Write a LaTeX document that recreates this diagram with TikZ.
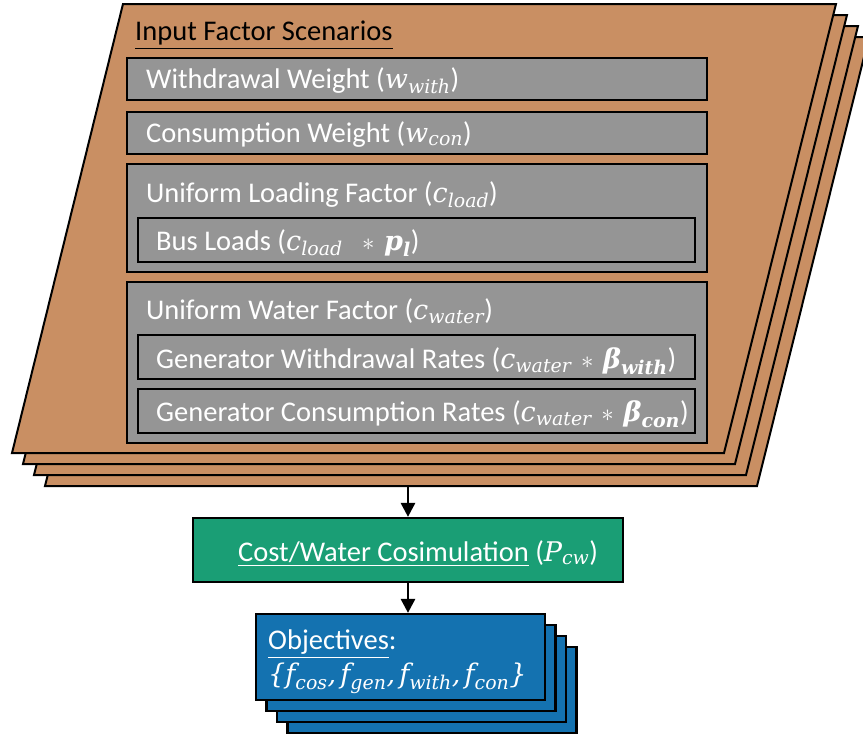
\documentclass[tikz,border=0pt]{standalone}
\usepackage{amsmath}
\usepackage{fontspec}
\setmainfont{Carlito}
\newfontfamily\symserif[Scale=0.95]{DejaVu Serif}
\usetikzlibrary{arrows.meta}
% italic and bold-italic symbols set in a serif text face
\newcommand\sy[1]{\text{\symserif\itshape #1}}
\newcommand\syb[1]{\text{\symserif\bfseries\itshape #1}}
\definecolor{sheetbrown}{RGB}{201,143,99}
\definecolor{panelgray}{RGB}{149,149,149}
\definecolor{simgreen}{RGB}{26,158,117}
\definecolor{objblue}{RGB}{20,114,176}
\begin{document}
\begin{tikzpicture}[x=1pt,y=-1pt,line join=miter,
  sheet/.style={draw=black,line width=2pt,fill=sheetbrown},
  panel/.style={draw=black,line width=2.2pt,fill=panelgray},
  lbl/.style={text=white,font=\fontsize{28.5}{33}\selectfont,inner sep=0pt,anchor=base west},
  simbox/.style={draw=black,line width=2.2pt,fill=simgreen,minimum width=430pt,minimum height=64pt,inner sep=0pt},
  objbox/.style={draw=black,line width=2.2pt,fill=objblue,minimum width=289pt,minimum height=86pt,inner sep=0pt},
  flow/.style={line width=2.8pt,-{Triangle[length=14pt,width=14pt]}}]
\useasboundingbox (0,0) rectangle (863,734);
\clip (0,0) rectangle (863,734);

% stacked scenario sheets, back to front
\foreach \k in {3,2,1,0}{
  \draw[sheet,shift={(11*\k,11*\k)}] (123,4) -- (836,4) -- (724,453) -- (12,453) -- cycle;
}
\coordinate (scenbot) at (408,486);

\node[lbl,text=black] (title) at (135,40) {\underline{Input Factor Scenarios}};

% factor panels
\draw[panel] (127,58) rectangle (707,100);
\node[lbl] (wwith) at (146,88) {Withdrawal Weight ($\sy{w}_{\sy{with}}$)};

\draw[panel] (127,112) rectangle (707,154);
\node[lbl] (wcon) at (146,142) {Consumption Weight ($\sy{w}_{\sy{con}}$)};

\draw[panel] (127,164) rectangle (707,272);
\node[lbl] (cload) at (146,202) {Uniform Loading Factor ($\sy{c}_{\sy{load}}$)};
\draw[panel] (138,218) rectangle (695,262);
\node[lbl] (busload) at (156,250) {Bus Loads ($\sy{c}_{\sy{load}}\;\;\ast\,\syb{p}_{\syb{l}}$)};

\draw[panel] (127,282) rectangle (707,443);
\node[lbl] (cwater) at (146,319) {Uniform Water Factor ($\sy{c}_{\sy{water}}$)};
\draw[panel] (138,335) rectangle (695,379);
\node[lbl] (genwith) at (156,368) {Generator Withdrawal Rates ($\sy{c}_{\sy{water}}\,\ast\,\syb{β}_{\syb{with}}$)};
\draw[panel] (138,389) rectangle (695,433);
\node[lbl] (gencon) at (156,421) {Generator Consumption Rates ($\sy{c}_{\sy{water}}\,\ast\,\syb{β}_{\syb{con}}$)};

% cosimulation
\node[simbox] (sim) at (408,550) {};
\node[lbl] (simtext) at (238,561) {\underline{Cost/Water Cosimulation} ($\sy{P}_{\sy{cw}}$)};

% stacked objective cards, back to front
\foreach \k in {3,2,1}{
  \node[objbox] (obj\k) at (400.5+10.5*\k,657+11*\k) {};
}
\node[objbox] (obj) at (400.5,657) {};
\node[lbl] (objtitle) at (268,649) {\underline{Objectives}:};
\node[lbl] (objset) at (268,683) {$\sy{\{}\sy{f}_{\sy{cos}}\sy{,}\,\sy{f}_{\sy{gen}}\sy{,}\,\sy{f}_{\sy{with}}\sy{,}\,\sy{f}_{\sy{con}}\sy{\}}$};

\draw[flow] (scenbot) -- (sim.north);
\draw[flow] (sim.south) -- (sim.south |- obj.north);
\end{tikzpicture}
\end{document}
